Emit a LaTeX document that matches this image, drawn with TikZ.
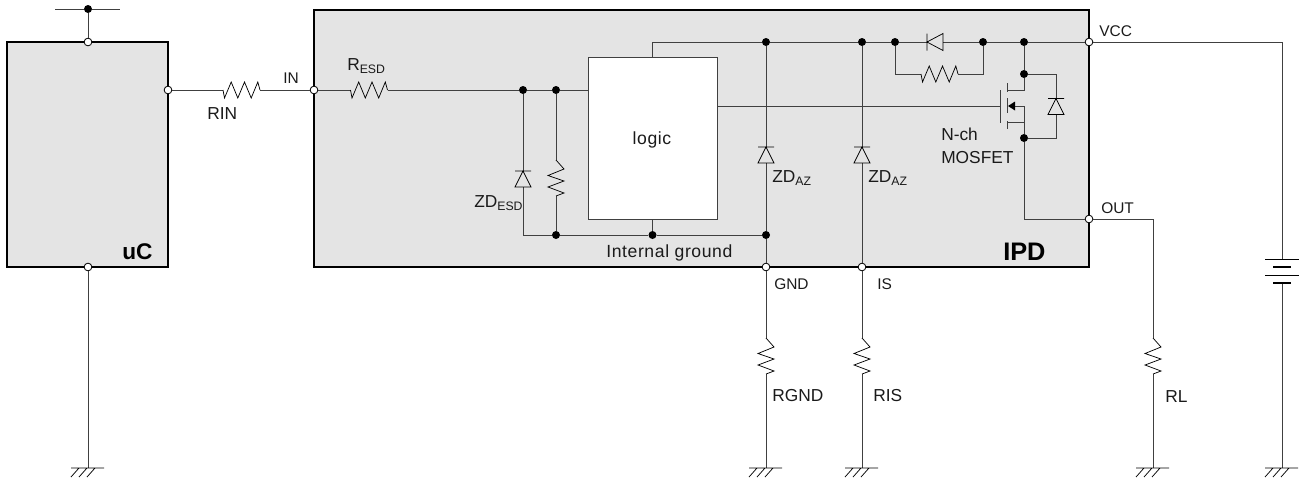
\documentclass[tikz,border=0pt]{standalone}
\usepackage{fontspec}
\setmainfont{Liberation Sans}
\newfontfamily\wideface[LetterSpace=3.4]{Liberation Sans}
\newcommand{\lblsize}{\fontsize{13pt}{15pt}\selectfont}
\newcommand{\widesize}{\wideface\fontsize{13.2pt}{15pt}\selectfont}
\newcommand{\pinsize}{\fontsize{11.6pt}{14pt}\selectfont}
\newcommand{\subsize}{\fontsize{9.2pt}{11pt}\selectfont}
\definecolor{wirecol}{HTML}{404040}
\definecolor{boxfill}{HTML}{E4E4E4}
\definecolor{txtcol}{HTML}{1A1A1A}
\tikzset{
  x=0.75pt,y=-0.75pt,
  wire/.style={draw=wirecol,line width=0.75pt},
  partline/.style={draw=black,line width=0.55pt,line join=miter},
  block/.style={draw=black,line width=1.7pt,fill=boxfill,outer sep=0pt},
  logicblock/.style={draw=wirecol,line width=0.75pt,fill=white,outer sep=0pt},
  jdot/.style={circle,fill=black,inner sep=0pt,minimum size=6pt},
  pinpt/.style={circle,draw=black,line width=0.6pt,fill=white,inner sep=0pt,minimum size=5.8pt},
  lbl/.style={anchor=west,inner sep=0pt,text=txtcol,font=\lblsize},
  widelbl/.style={anchor=west,inner sep=0pt,text=txtcol,font=\widesize},
  pinlbl/.style={anchor=west,inner sep=0pt,text=txtcol,font=\pinsize},
  boldlbl/.style={anchor=west,inner sep=0pt,text=black,font=\bfseries\fontsize{17pt}{19pt}\selectfont},
  pics/resh/.style={code={\draw[partline] (-18.5,0)--(-17,8)--(-10.3,-8)--(-3.7,8)--(3,-8)--(9.7,8)--(16.3,-8)--(18.5,0);}},
  pics/resv/.style={code={\draw[partline] (0,-18)--(8,-9)--(-8,-2.5)--(8,3)--(-8,9)--(8,15)--(0,18);}},
  pics/zenerup/.style={code={\draw[partline] (-8,-8)--(8,-8) (0,-8)--(8,8)--(-8,8)--cycle;}},
  pics/zenerleft/.style={code={\draw[partline] (-8,-8.5)--(-8,8.5) (-8,0)--(8,-8.5)--(8,8.5)--cycle;}},
  pics/earth/.style={code={\draw[partline] (-17,0)--(16,0) (-9,0)--(-17,9) (-1,0)--(-9,9) (7,0)--(-1,9);}},
}
\begin{document}
\begin{tikzpicture}
\useasboundingbox (0,0) rectangle (1301,480);
% blocks
\node[block,minimum width=120.75pt,minimum height=168.75pt,inner sep=0pt,anchor=north west] (uc) at (7,42) {};
\node[block,minimum width=581.25pt,minimum height=192.75pt,inner sep=0pt,anchor=north west] (ipd) at (314,10) {};
\node[logicblock,minimum width=96.75pt,minimum height=121.5pt,inner sep=0pt,anchor=north west] (logic) at (588,57) {};
\node[widelbl,anchor=center] (logictxt) at (652,140) {logic};
% pins
\node[pinpt] (pTop) at (88,42) {};
\node[pinpt] (pUcOut) at (168,90) {};
\node[pinpt] (pUcGnd) at (88,267) {};
\node[pinpt] (pIn) at (314,90) {};
\node[pinpt] (pVcc) at (1089,42) {};
\node[pinpt] (pOut) at (1089,219) {};
\node[pinpt] (pGnd) at (766,267) {};
\node[pinpt] (pIs) at (862,267) {};
% junctions
\node[jdot] (jTop) at (88,9) {};
\node[jdot] (jE) at (523,90) {};
\node[jdot] (jR) at (556,90) {};
\node[jdot] (jGR) at (556,235) {};
\node[jdot] (jGL) at (652.5,235) {};
\node[jdot] (jGZ) at (766,235) {};
\node[jdot] (jV1) at (766,42) {};
\node[jdot] (jV2) at (862,42) {};
\node[jdot] (jV3) at (895,42) {};
\node[jdot] (jV4) at (983,42) {};
\node[jdot] (jV5) at (1024,42) {};
\node[jdot] (jD) at (1024,74) {};
\node[jdot] (jS) at (1024,138) {};
% free ends and corners
\coordinate (topL) at (55,9);
\coordinate (topR) at (120,9);
\coordinate (gUc) at (88,468);
\coordinate (gGnd) at (766,468);
\coordinate (gIs) at (862,468);
\coordinate (gL) at (1153,468);
\coordinate (gB) at (1282,468);
\coordinate (rinA) at (223,90);
\coordinate (rinB) at (260,90);
\coordinate (resdA) at (350.5,90);
\coordinate (resdB) at (387.5,90);
\coordinate (logicIn) at (588,90);
\coordinate (logicTop) at (652.5,57);
\coordinate (logicTopC) at (652.5,42);
\coordinate (logicBot) at (652.5,219);
\coordinate (gndL) at (523,235);
% wires
\draw[wire] (topL) -- (jTop);
\draw[wire] (jTop) -- (topR);
\draw[wire] (jTop) -- (pTop);
\draw[wire] (pUcGnd) -- (gUc);
\draw[wire] (pUcOut) -- (rinA);
\draw[wire] (rinB) -- (pIn);
\draw[wire] (pIn) -- (resdA);
\draw[wire] (resdB) -- (jE);
\draw[wire] (jE) -- (jR);
\draw[wire] (jR) -- (logicIn);
\draw[wire] (logicTop) -- (logicTopC) -- (jV1);
\draw[wire] (jV1) -- (jV2);
\draw[wire] (jV2) -- (jV3);
\draw[wire] (jV3) -- (927,42);
\draw[wire] (943,42) -- (jV4);
\draw[wire] (jV4) -- (jV5);
\draw[wire] (jV5) -- (pVcc);
% ESD zener and resistor
\draw[wire] (jE) -- (523,171);
\draw[wire] (523,187) -- (gndL) -- (jGR);
\draw[wire] (jR) -- (556,160);
\draw[wire] (556,196) -- (jGR);
\draw[wire] (jGR) -- (jGL);
\draw[wire] (jGL) -- (jGZ);
\draw[wire] (logicBot) -- (jGL);
% AZ zeners
\draw[wire] (jV1) -- (766,147);
\draw[wire] (766,163) -- (jGZ);
\draw[wire] (jGZ) -- (pGnd);
\draw[wire] (jV2) -- (862,147);
\draw[wire] (862,163) -- (pIs);
% external legs
\draw[wire] (pGnd) -- (766,338);
\draw[wire] (766,374) -- (gGnd);
\draw[wire] (pIs) -- (862,338);
\draw[wire] (862,374) -- (gIs);
\draw[wire] (pOut) -- (1153,219) -- (1153,338);
\draw[wire] (1153,374) -- (gL);
\draw[wire] (pVcc) -- (1282,42) -- (1282,259);
\draw[wire] (1282,283) -- (gB);
% parallel resistor
\draw[wire] (jV3) -- (895,74) -- (921,74);
\draw[wire] (958,74) -- (983,74) -- (jV4);
% MOSFET
\draw[wire] (jV5) -- (jD);
\draw[wire] (jD) -- (1024,90) -- (1007,90);
\draw[wire] (717,106) -- (1000,106);
\draw[wire] (1000,90) -- (1000,123);
\draw[wire] (1007,83) -- (1007,92);
\draw[wire] (1007,98) -- (1007,113);
\draw[wire] (1007,121) -- (1007,129);
\draw[wire] (1015,106) -- (1024,106) -- (jS);
\draw[wire] (1007,122) -- (1024,122);
\fill[black] (1008,106) -- (1015,101.5) -- (1015,110.5) -- cycle;
\draw[wire] (jD) -- (1056,74) -- (1056,98);
\draw[wire] (1056,115) -- (1056,138) -- (jS);
\draw[wire] (jS) -- (1024,219) -- (pOut);
% parts
\pic at (241.5,90) {resh};
\pic at (369,90) {resh};
\pic at (939.5,74) {resh};
\pic at (556,178) {resv};
\pic at (766,356) {resv};
\pic at (862,356) {resv};
\pic at (1153,356) {resv};
\pic at (523,179) {zenerup};
\pic at (766,155) {zenerup};
\pic at (862,155) {zenerup};
\pic at (1056,106.5) {zenerup};
\pic at (935,42) {zenerleft};
\pic at (766,468) {earth};
\pic at (862,468) {earth};
\pic at (88,468) {earth};
\pic at (1153,468) {earth};
\pic at (1282,468) {earth};
% battery
\draw[partline] (1265,259) -- (1299,259);
\draw[partline,line width=1.5pt] (1273,267) -- (1291,267);
\draw[partline] (1265,275) -- (1299,275);
\draw[partline,line width=1.5pt] (1273,283) -- (1291,283);
% labels
\node[boldlbl] (tuc) at (122,252) {uC};
\node[boldlbl,font=\bfseries\fontsize{19pt}{21pt}\selectfont] (tipd) at (1003,252) {IPD};
\node[pinlbl] (tin) at (283,78) {IN};
\node[lbl] (trin) at (207,114) {RIN};
\node[lbl] (tresd) at (347,66) {R\raisebox{-0.25ex}{\subsize ESD}};
\node[lbl] (tzde) at (474,203) {ZD\raisebox{-0.25ex}{\subsize ESD}};
\node[lbl] (tza1) at (772,178) {ZD\raisebox{-0.25ex}{\subsize AZ}};
\node[lbl] (tza2) at (868,178) {ZD\raisebox{-0.25ex}{\subsize AZ}};
\node[widelbl] (tint) at (606,253) {Internal ground};
\node[lbl] (tnch) at (941,134) {N-ch};
\node[lbl] (tmos) at (941,158) {MOSFET};
\node[pinlbl] (tvcc) at (1099,31) {VCC};
\node[pinlbl] (tout) at (1101,208) {OUT};
\node[pinlbl] (tgnd) at (774,284) {GND};
\node[pinlbl] (tis) at (877,284) {IS};
\node[lbl] (trgnd) at (772,396) {RGND};
\node[lbl] (tris) at (873,396) {RIS};
\node[lbl] (trl) at (1165,397) {RL};
\end{tikzpicture}
\end{document}
